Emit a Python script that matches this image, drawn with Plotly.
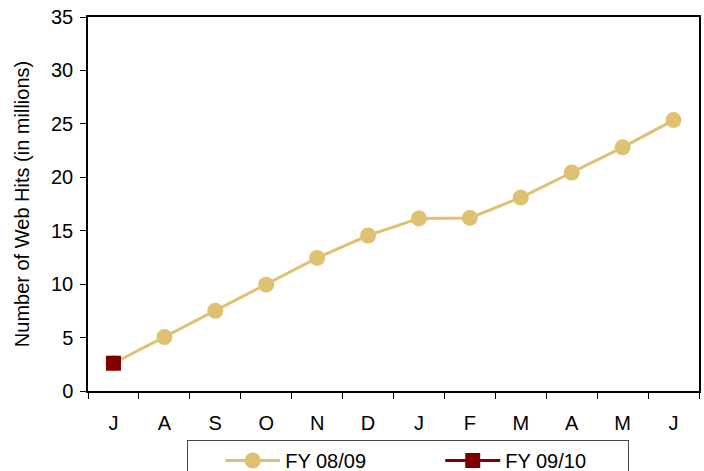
import plotly.graph_objects as go

months = ["J", "A", "S", "O", "N", "D", "J ", "F", "M", "A ", "M ", "J  "]
fy0809 = [2.6, 5.05, 7.5, 9.95, 12.45, 14.55, 16.15, 16.2, 18.1, 20.45, 22.8, 25.35]
fy0910_months = ["J"]
fy0910 = [2.6]
y_ticks = [0, 5, 10, 15, 20, 25, 30, 35]

FONT = "Liberation Sans, Arial, sans-serif"
GOLD = "#DFC172"
RED = "#800000"
FS = 20

fig = go.Figure()
fig.add_trace(go.Scatter(
    x=months, y=fy0809, name="FY 08/09", mode="lines+markers",
    line=dict(color=GOLD, width=3),
    marker=dict(symbol="circle", size=16, color=GOLD),
    legendwidth=150,
))
fig.add_trace(go.Scatter(
    x=fy0910_months, y=fy0910, name="FY 09/10", mode="lines+markers",
    line=dict(color=RED, width=3),
    marker=dict(symbol="square", size=15, color=RED),
    legendwidth=117,
))

fig.update_layout(
    width=704, height=471,
    margin=dict(l=88, r=5, t=17, b=80, autoexpand=False),
    paper_bgcolor="white", plot_bgcolor="white",
    font=dict(family=FONT, size=FS, color="black"),
    showlegend=True,
    legend=dict(
        orientation="h", x=0.162, xanchor="left", y=-0.131, yanchor="top",
        bordercolor="#444444", borderwidth=1, bgcolor="white",
        font=dict(family=FONT, size=FS, color="black"),
        title=dict(text="\u00a0" * 4, side="left", font=dict(size=FS)),
        itemwidth=55, itemsizing="trace", tracegroupgap=0,
    ),
)
fig.update_xaxes(
    type="category", categoryorder="array", categoryarray=months,
    tickmode="array", tickvals=months, ticktext=[m.strip() for m in months],
    tickson="boundaries", ticks="outside", ticklen=6, tickcolor="black",
    tickfont=dict(family=FONT, size=FS, color="black"),
    showline=True, linecolor="black", linewidth=1.5, mirror=True,
    showgrid=False, zeroline=False, ticklabelstandoff=13, automargin=False,
    range=[-0.5, 11.5],
)
fig.update_yaxes(
    range=[0, 35], tickvals=y_ticks, ticks="outside", ticklen=6, tickcolor="black",
    tickfont=dict(family=FONT, size=FS, color="black"),
    showline=True, linecolor="black", linewidth=1.5, mirror=True,
    showgrid=False, zeroline=False, automargin=False, ticklabelstandoff=3,
    ticklabeloverflow="allow",
    title=dict(text="Number of Web Hits (in millions)", font=dict(family=FONT, size=FS), standoff=16),
)

fig.write_html("out.html", config={"displayModeBar": False},
               post_script="document.body.style.margin='0';")
